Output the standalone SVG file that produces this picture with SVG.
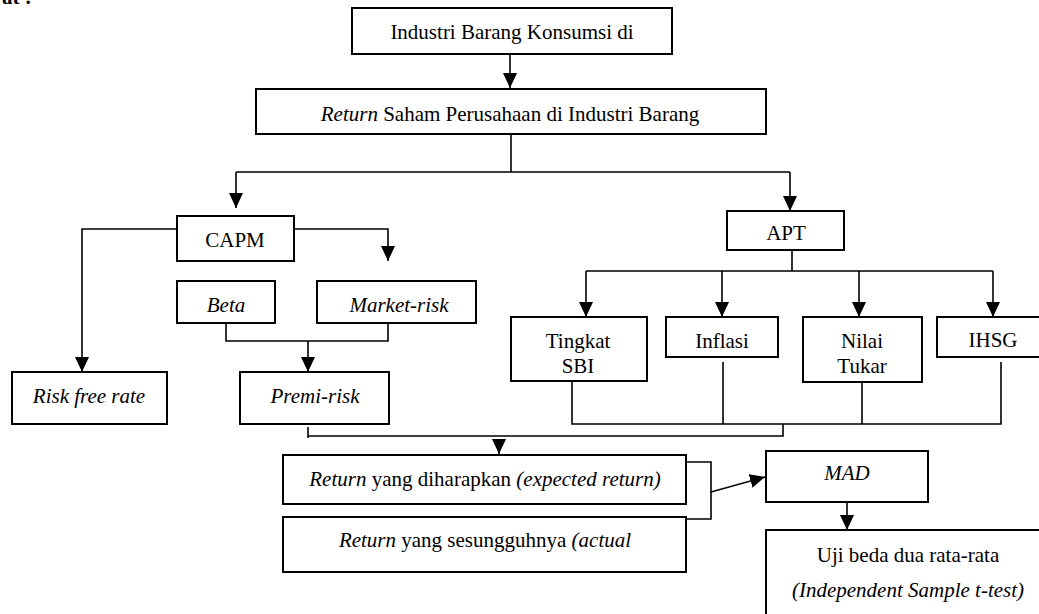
<svg xmlns="http://www.w3.org/2000/svg" width="1039" height="614" viewBox="0 0 1039 614">
<style>
  .box { fill: #fff; stroke: #000; stroke-width: 2; }
  .t { font-family: "Liberation Serif", "Times New Roman", serif; font-size: 21px; fill: #000; text-anchor: middle; }
  .i { font-style: italic; }
  .c { fill: none; stroke: #000; stroke-width: 1.6; }
</style>
<defs>
  <marker id="ah" markerUnits="userSpaceOnUse" markerWidth="15" markerHeight="14" refX="15" refY="7" orient="auto">
    <path d="M0,0 L15,7 L0,14 z" fill="#000"/>
  </marker>
</defs>
<rect width="1039" height="614" fill="#fff"/>
<text x="2" y="4" style="font-family:'Liberation Serif',serif;font-size:21px;font-weight:bold">at :</text>

<g id="connectors">
  <path class="c" d="M510,54 L510,88" marker-end="url(#ah)"/>
  <path class="c" d="M511,134 L511,172 M236,172 L790,172"/>
  <path class="c" d="M236,172 L236,208" marker-end="url(#ah)"/>
  <path class="c" d="M790,172 L790,211" marker-end="url(#ah)"/>
  <path class="c" d="M177,229 L82,229 L82,372" marker-end="url(#ah)"/>
  <path class="c" d="M294,229 L388,229 L388,261" marker-end="url(#ah)"/>
  <path class="c" d="M226,323 L226,341 L388,341 L388,323"/>
  <path class="c" d="M308,341 L308,372" marker-end="url(#ah)"/>
  <path class="c" d="M792,250 L792,271 M586,271 L993,271"/>
  <path class="c" d="M586,271 L586,317" marker-end="url(#ah)"/>
  <path class="c" d="M722,271 L722,317" marker-end="url(#ah)"/>
  <path class="c" d="M859,271 L859,317" marker-end="url(#ah)"/>
  <path class="c" d="M993,271 L993,317" marker-end="url(#ah)"/>
  <path class="c" d="M572,381 L572,424 L1001,424 L1001,362 M723,362 L723,424 M862,373 L862,424"/>
  <path class="c" d="M783,424 L783,436 L308,436 M308,427 L308,438"/>
  <path class="c" d="M499,448 L499,454" marker-end="url(#ah)"/>
  <path class="c" d="M686,462 L711,462 L711,519 L686,519"/>
  <path class="c" d="M711,492 L765,477" marker-end="url(#ah)"/>
  <path class="c" d="M847,502 L847,530" marker-end="url(#ah)"/>
</g>

<g id="n-industri">
  <rect class="box" x="352" y="8" width="320" height="46"/>
  <text class="t" x="512" y="39">Industri Barang Konsumsi di</text>
</g>
<g id="n-return-saham">
  <rect class="box" x="256" y="89" width="510" height="45"/>
  <text class="t" x="510" y="121"><tspan class="i">Return</tspan> Saham Perusahaan di Industri Barang</text>
</g>
<g id="n-capm">
  <rect class="box" x="177" y="216" width="117" height="45"/>
  <text class="t" x="235" y="247">CAPM</text>
</g>
<g id="n-beta">
  <rect class="box" x="177" y="281" width="98" height="42"/>
  <text class="t i" x="226" y="312">Beta</text>
</g>
<g id="n-market-risk">
  <rect class="box" x="317" y="281" width="159" height="42"/>
  <text class="t i" x="399" y="312">Market-risk</text>
</g>
<g id="n-risk-free">
  <rect class="box" x="12" y="372" width="155" height="52"/>
  <text class="t i" x="89" y="403">Risk free rate</text>
</g>
<g id="n-premi-risk">
  <rect class="box" x="240" y="372" width="149" height="52"/>
  <text class="t i" x="315" y="403">Premi-risk</text>
</g>
<g id="n-apt">
  <rect class="box" x="727" y="211" width="117" height="39"/>
  <text class="t" x="786" y="240">APT</text>
</g>
<g id="n-sbi">
  <rect class="box" x="511" y="317" width="136" height="64"/>
  <text class="t" x="578" y="348">Tingkat</text>
  <text class="t" x="578" y="373">SBI</text>
</g>
<g id="n-inflasi">
  <rect class="box" x="666" y="317" width="112" height="40"/>
  <text class="t" x="722" y="348">Inflasi</text>
</g>
<g id="n-nilai-tukar">
  <rect class="box" x="803" y="317" width="119" height="65"/>
  <text class="t" x="862" y="348">Nilai</text>
  <text class="t" x="862" y="373">Tukar</text>
</g>
<g id="n-ihsg">
  <rect class="box" x="937" y="317" width="104" height="40"/>
  <text class="t" x="993" y="347">IHSG</text>
</g>
<g id="n-expected">
  <rect class="box" x="283" y="455" width="403" height="49"/>
  <text class="t" x="485" y="486"><tspan class="i">Return</tspan> yang diharapkan <tspan class="i">(expected return)</tspan></text>
</g>
<g id="n-actual">
  <rect class="box" x="283" y="517" width="403" height="55"/>
  <text class="t" x="485" y="547"><tspan class="i">Return</tspan> yang sesungguhnya <tspan class="i">(actual</tspan></text>
</g>
<g id="n-mad">
  <rect class="box" x="766" y="451" width="162" height="51"/>
  <text class="t i" x="847" y="480">MAD</text>
</g>
<g id="n-uji">
  <rect class="box" x="766" y="530" width="280" height="90"/>
  <text class="t" x="908" y="562">Uji beda dua rata-rata</text>
  <text class="t i" x="908" y="597">(Independent Sample t-test)</text>
</g>
</svg>
